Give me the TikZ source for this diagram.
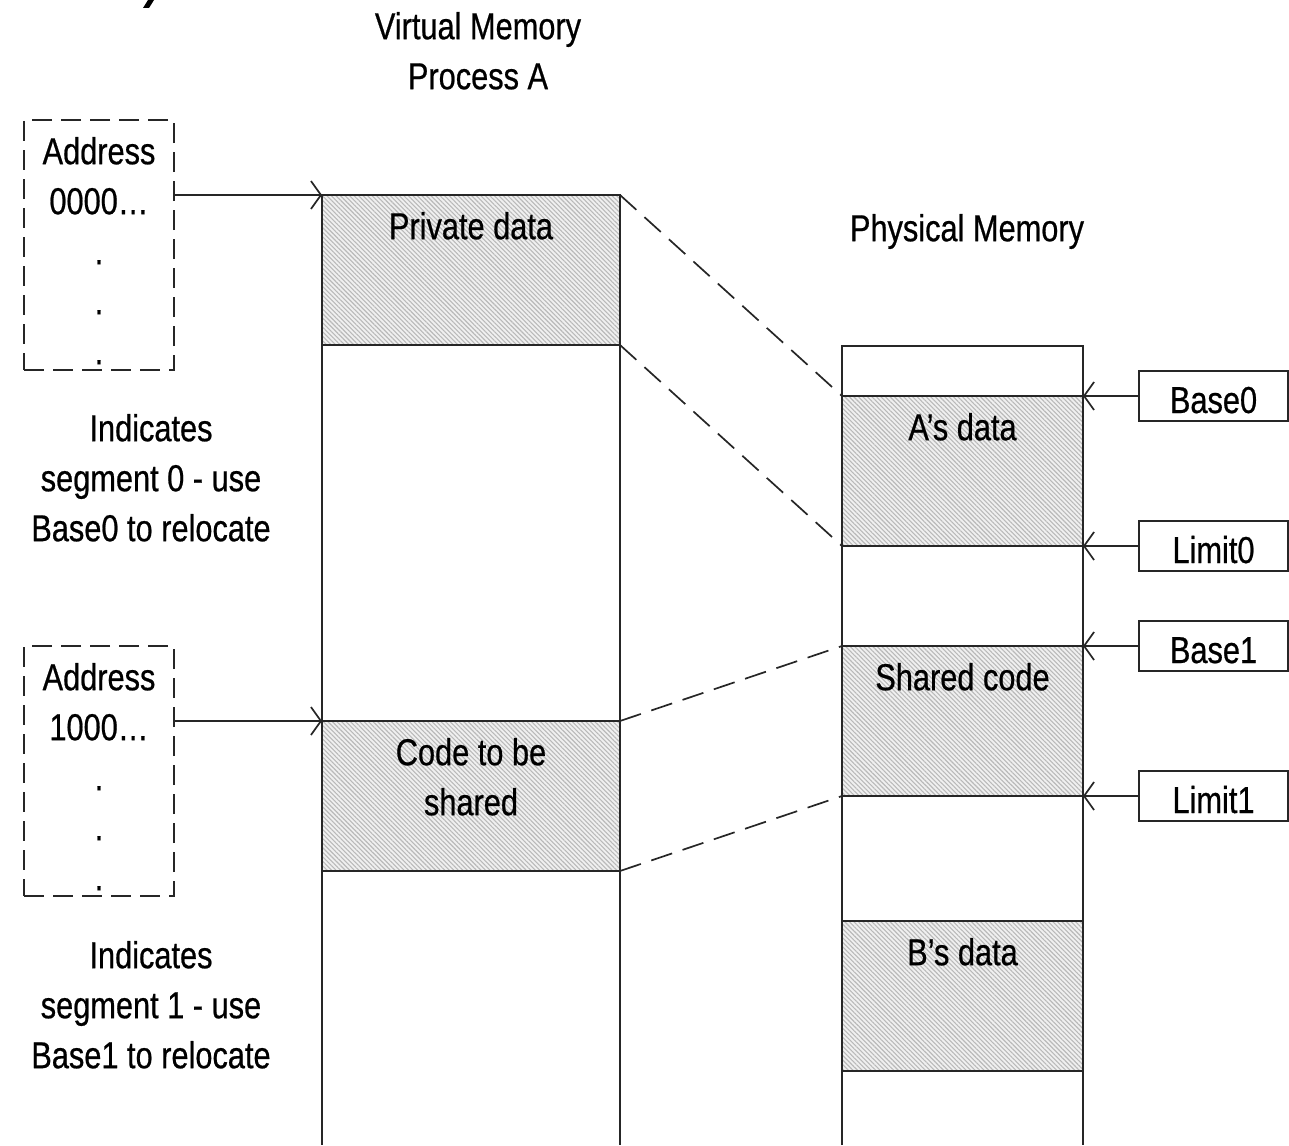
\documentclass[tikz,border=0pt]{standalone}
\usepackage{fontspec}
\setmainfont{Liberation Sans}[FakeStretch=0.82, FakeBold=0.6]
\usetikzlibrary{arrows.meta,patterns.meta,calc}

\begin{document}
\begin{tikzpicture}[
  x=1pt, y=-1pt,
  every node/.style={inner sep=0pt, outer sep=0pt,
    font=\fontsize{37.5}{50}\selectfont},
  ln/.style={line width=1.7pt, draw=black!85},
  hatched/.style={ln, draw, rectangle,
    preaction={fill=gray!12},
    preaction={pattern={Lines[angle=-45, distance=3.2pt, line width=1.1pt]},
      pattern color=gray!55}},
  segblock/.style={hatched, minimum height=150pt},
  vseg/.style={segblock, minimum width=298pt},
  pseg/.style={segblock, minimum width=241pt},
  inlabel/.style={anchor=north, yshift=-17pt, align=center},
  addrbox/.style={ln, draw, dash pattern=on 20pt off 9pt,
    minimum width=150pt, minimum height=250pt},
  regbox/.style={ln, draw, minimum width=149pt, minimum height=50pt,
    text height=34pt, text depth=0pt},
  arr/.style={ln, -{Straight Barb[length=10pt, width=28pt]}},
  link/.style={ln, dash pattern=on 22pt off 11pt},
  caption/.style={anchor=north, align=center}
]
\useasboundingbox (0,0) rectangle (1289,1145);

% remnant of the heading above the figure
\fill[black] (148,0) -- (154,0) -- (149,8) -- (143,8) -- cycle;

% ---- virtual memory of process A ----
\node[caption] (vtitle) at (478,12) {Virtual Memory\\Process A};
\node[vseg, label={[inlabel]north:Private data}] (vpriv) at (471,270) {};
\node[vseg, label={[inlabel]north:{Code to be\\shared}}] (vcode) at (471,796) {};
\coordinate (bottom) at (0,1145);
\draw[ln] (vpriv.north west) -- (vpriv.north west |- bottom);
\draw[ln] (vpriv.north east) -- (vpriv.north east |- bottom);

% ---- addresses issued by the process ----
\node[addrbox, label={[inlabel]north:{Address\\0000…\\.\\.\\.}}] (addr0) at (99,245) {};
\node[addrbox, label={[inlabel]north:{Address\\1000…\\.\\.\\.}}] (addr1) at (99,771) {};
\node[caption] (note0) at (151,414) {Indicates\\segment 0 - use\\Base0 to relocate};
\node[caption] (note1) at (151,941) {Indicates\\segment 1 - use\\Base1 to relocate};
\draw[arr] (addr0.east |- vpriv.north west) -- (vpriv.north west);
\draw[arr] (addr1.east |- vcode.north west) -- (vcode.north west);

% ---- physical memory ----
\node[caption] (ptitle) at (967,214) {Physical Memory};
\node[pseg, label={[inlabel]north:A’s data}] (pA) at (962.5,471) {};
\node[pseg, label={[inlabel]north:Shared code}] (pS) at (962.5,721) {};
\node[pseg, label={[inlabel]north:B’s data}] (pB) at (962.5,996) {};
\coordinate (ptop) at (0,346);
\draw[ln] (pA.north west |- bottom) -- (pA.north west |- ptop)
  -- (pA.north east |- ptop) -- (pA.north east |- bottom);

% ---- segment registers ----
\node[regbox] (base0) at (1213.5,396) {Base0};
\node[regbox] (limit0) at (1213.5,546) {Limit0};
\node[regbox] (base1) at (1213.5,646) {Base1};
\node[regbox] (limit1) at (1213.5,796) {Limit1};
\draw[arr] (base0.west) -- (pA.north east);
\draw[arr] (limit0.west) -- (pA.south east);
\draw[arr] (base1.west) -- (pS.north east);
\draw[arr] (limit1.west) -- (pS.south east);

% ---- segment mapping ----
\draw[link] (vpriv.north east) -- (pA.north west);
\draw[link] (vpriv.south east) -- (pA.south west);
\draw[link] (vcode.north east) -- (pS.north west);
\draw[link] (vcode.south east) -- (pS.south west);
\end{tikzpicture}
\end{document}
